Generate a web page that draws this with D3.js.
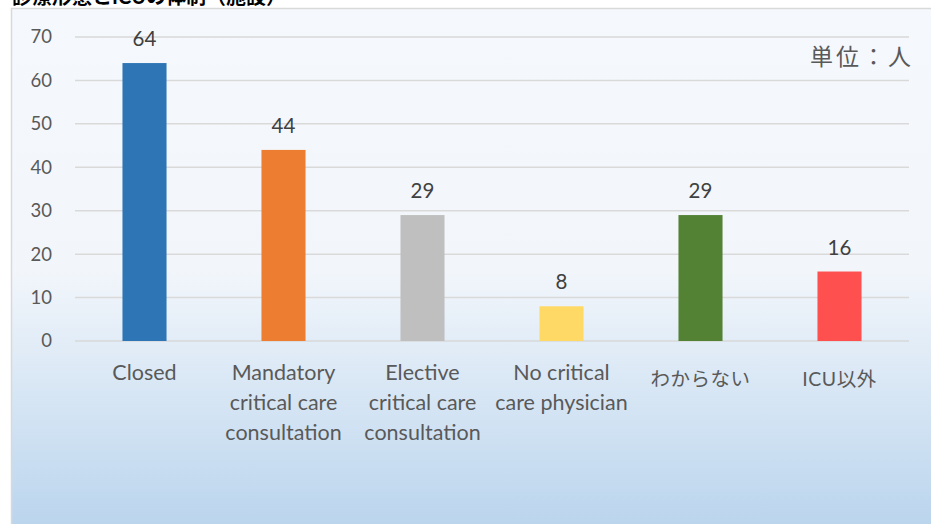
<!DOCTYPE html>
<html>
<head>
<meta charset="utf-8">
<script src="https://d3js.org/d3.v7.min.js"></script>
<style>
  body { margin: 0; padding: 0; background: #fff; }
  svg { display: block; }
  text { font-family: Lato, "Noto Sans CJK JP", sans-serif; }
</style>
</head>
<body>
<div id="chart"></div>
<script>
  var categories = [
    ["Closed"],
    ["Mandatory", "critical care", "consultation"],
    ["Elective", "critical care", "consultation"],
    ["No critical", "care physician"],
    ["わからない"],
    ["ICU以外"]
  ];
  var values = [64, 44, 29, 8, 29, 16];
  var colors = ["#2E75B6", "#ED7D31", "#BFBFBF", "#FFD966", "#548235", "#FF5050"];
  var yTicks = [0, 10, 20, 30, 40, 50, 60, 70];
  var unitLabel = "単位：人";
  var titleText = "診療形態とICUの体制（施設）";

  var W = 931, H = 524;
  var plot = {left: 75, right: 909, top: 37, bottom: 341};

  var svg = d3.select("#chart").append("svg")
    .attr("width", W)
    .attr("height", H);

  var defs = svg.append("defs");
  var grad = defs.append("linearGradient")
    .attr("id", "bg")
    .attr("x1", 0).attr("y1", 0).attr("x2", 0).attr("y2", 1);
  grad.append("stop").attr("offset", "0%").attr("stop-color", "#f5f8fc");
  grad.append("stop").attr("offset", "50%").attr("stop-color", "#f2f6fb");
  grad.append("stop").attr("offset", "100%").attr("stop-color", "#b9d4ed");

  // title, cut off by the top edge as in the source picture
  svg.append("text")
    .attr("x", 12)
    .attr("y", 4)
    .style("font-size", "20px")
    .style("font-weight", "bold")
    .style("fill", "#000")
    .text(titleText);

  // chart frame
  svg.append("rect")
    .attr("x", 11.5)
    .attr("y", 8.5)
    .attr("width", W + 20)
    .attr("height", H)
    .attr("fill", "url(#bg)")
    .attr("stroke", "#d9d9d9")
    .attr("stroke-width", 1.5);

  var x = d3.scaleBand()
    .domain(d3.range(categories.length))
    .range([plot.left, plot.right]);

  var y = d3.scaleLinear()
    .domain([0, 70])
    .range([plot.bottom, plot.top]);

  // gridlines
  svg.append("g")
    .attr("class", "grid")
    .selectAll("line")
    .data(yTicks)
    .enter().append("line")
    .attr("x1", plot.left)
    .attr("x2", plot.right)
    .attr("y1", function(d) { return y(d); })
    .attr("y2", function(d) { return y(d); })
    .style("stroke", "#d9d9d9")
    .style("stroke-width", 1.5);

  // y axis labels
  var yAxis = svg.append("g")
    .attr("transform", "translate(" + plot.left + ",0)")
    .call(d3.axisLeft(y).tickValues(yTicks).tickSize(0).tickPadding(23));
  yAxis.select(".domain").remove();
  yAxis.selectAll("text")
    .style("font-size", "18.5px")
    .style("fill", "#595959")
    .style("font-family", "Lato, sans-serif");

  var barW = x.bandwidth() * 0.317;

  svg.selectAll(".bar")
    .data(values)
    .enter().append("rect")
    .attr("class", "bar")
    .attr("x", function(d, i) { return x(i) + x.bandwidth() / 2 - barW / 2; })
    .attr("y", function(d) { return y(d); })
    .attr("width", barW)
    .attr("height", function(d) { return y(0) - y(d); })
    .style("fill", function(d, i) { return colors[i]; });

  svg.selectAll(".val")
    .data(values)
    .enter().append("text")
    .attr("class", "val")
    .attr("x", function(d, i) { return x(i) + x.bandwidth() / 2; })
    .attr("y", function(d) { return y(d) - 17; })
    .attr("text-anchor", "middle")
    .style("font-size", "20.5px")
    .style("fill", "#404040")
    .text(function(d) { return d; });

  // category labels
  var isCJK = function(s) { return /[\u3040-\u9fff]/.test(s); };
  var cat = svg.selectAll(".cat")
    .data(categories)
    .enter().append("text")
    .attr("class", "cat")
    .attr("text-anchor", "middle")
    .attr("y", function(d) { return isCJK(d[0]) ? 386 : 380; })
    .style("font-size", function(d) { return isCJK(d[0]) ? "19.5px" : "21.5px"; })
    .style("letter-spacing", function(d) { return isCJK(d[0]) ? "0.5px" : "0px"; })
    .style("fill", "#595959");
  cat.selectAll("tspan")
    .data(function(d, i) { return d.map(function(s) { return {s: s, i: i}; }); })
    .enter().append("tspan")
    .attr("x", function(d) { return x(d.i) + x.bandwidth() / 2; })
    .attr("dy", function(d, j) { return j === 0 ? 0 : 30; })
    .text(function(d) { return d.s; });

  svg.append("text")
    .attr("x", 914)
    .attr("y", 65)
    .attr("text-anchor", "end")
    .style("font-size", "23px")
    .style("letter-spacing", "3px")
    .style("fill", "#595959")
    .text(unitLabel);
</script>
</body>
</html>
